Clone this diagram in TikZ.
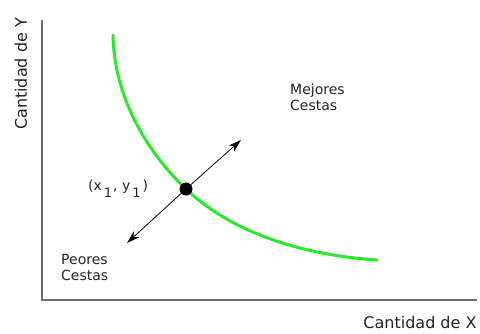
\documentclass[tikz,border=0pt]{standalone}
\usepackage{fontspec}
\setmainfont{DejaVu Sans}
\usetikzlibrary{arrows.meta}
\definecolor{curvegreen}{RGB}{40,235,40}
\definecolor{axisgray}{RGB}{110,110,110}
\definecolor{txtgray}{RGB}{35,35,35}
\tikzset{
  axisline/.style={draw=axisgray, line width=2pt},
  curveline/.style={draw=curvegreen, line width=3pt},
  dirarrow/.style={draw=black, line width=0.8pt, -{Stealth[length=13pt,width=8pt]}},
  axislabel/.style={inner sep=0pt, text=txtgray, font=\fontsize{16}{18}\selectfont},
  regionlabel/.style={inner sep=0pt, text=txtgray, align=left, anchor=north west, font=\fontsize{14}{16}\selectfont},
  bundledot/.style={circle, fill=black, minimum size=13pt, inner sep=0pt}
}
\begin{document}
\begin{tikzpicture}[x=1pt,y=-1pt]
\useasboundingbox (0,0) rectangle (480,333);
% axes
\coordinate (origin) at (42,300);
\coordinate (ytop) at (42,20);
\coordinate (xend) at (477,300);
\draw[axisline] (ytop) -- (origin) -- (xend);
% indifference curve
\coordinate (cstart) at (113,35);
\coordinate (cmid) at (186,189);
\coordinate (cend) at (377,260);
\draw[curveline, line cap=round] (cstart) .. controls (114,100) and (150,155) .. (cmid)
  .. controls (226,227) and (290,254) .. (cend);
% bundle point
\node[bundledot] (p) at (cmid) {};
\coordinate (better) at (241,140);
\coordinate (worse) at (127,243);
\draw[dirarrow] (p) -- (better);
\draw[dirarrow] (p) -- (worse);
% labels
\node[axislabel, rotate=90] (ylab) at (21,74) {Cantidad de Y};
\node[axislabel] (xlab) at (420,323) {Cantidad de X};
\node[regionlabel] (mej) at (290,84) {Mejores\\Cestas};
\node[regionlabel] (peo) at (61,254) {Peores\\Cestas};
\node[inner sep=0pt, anchor=base west, text=txtgray, font=\fontsize{14}{16}\selectfont] (lab) at (88,190)
  {(x\hspace{2pt}\raisebox{-7pt}{\fontsize{13}{13}\selectfont 1}\hspace{1pt}, y\hspace{2pt}\raisebox{-7pt}{\fontsize{13}{13}\selectfont 1}\hspace{2pt})};
\end{tikzpicture}
\end{document}
